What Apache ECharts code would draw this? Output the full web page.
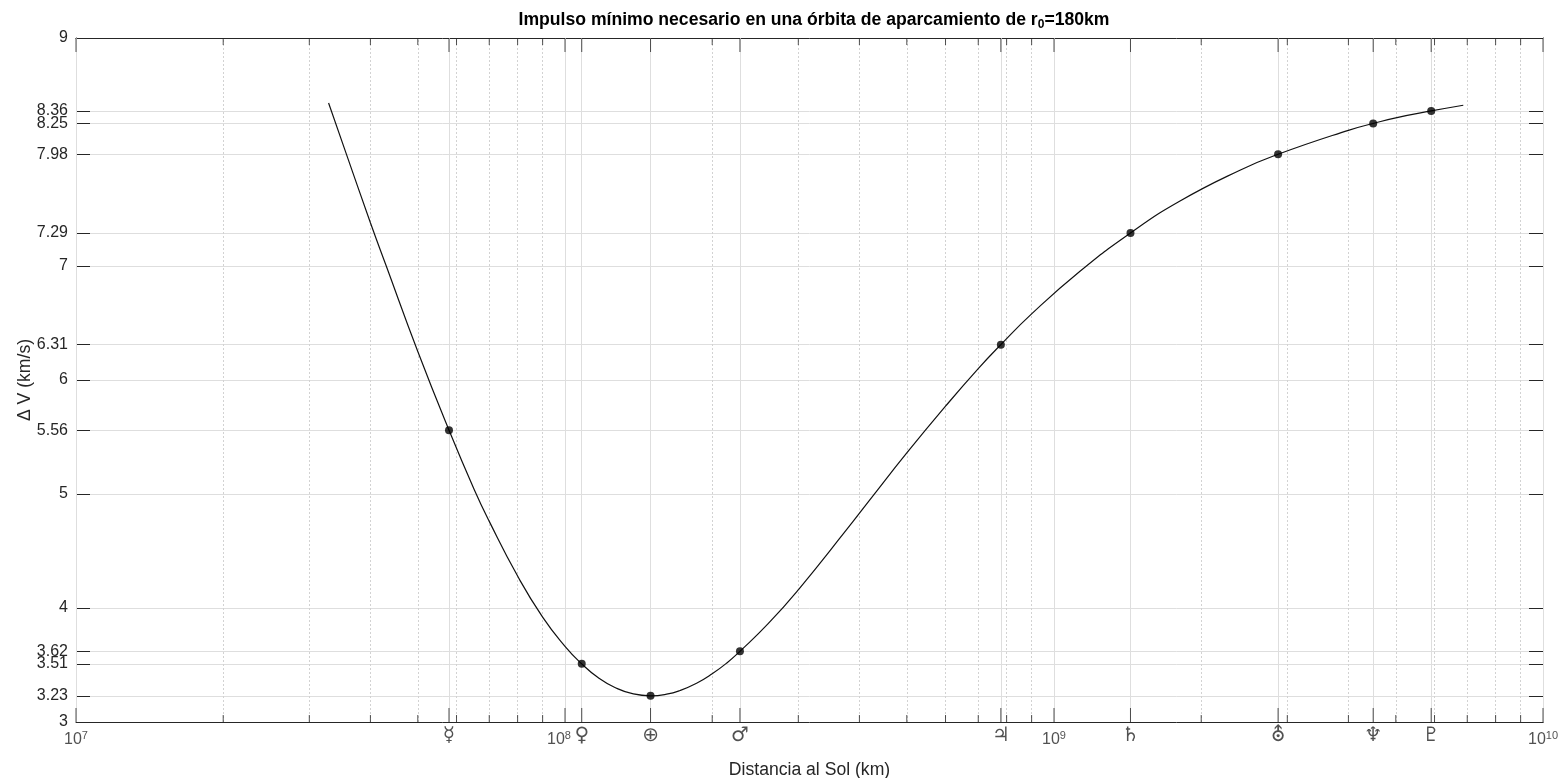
<!DOCTYPE html>
<html>
<head>
<meta charset="utf-8">
<title>Impulso mínimo necesario</title>
<script src="https://cdn.jsdelivr.net/npm/echarts@6.0.0/dist/echarts.min.js"></script>
<style>
  html, body { margin: 0; padding: 0; background: #fff; }
  #chart { width: 1566px; height: 778px; }
</style>
</head>
<body>
<div id="chart"></div>
<script>
// curva: distancia al Sol (km) y ΔV (km/s)
const curveDist = [3.285e7, 3.54e7, 4.0e7, 4.31e7, 5.0e7, 5.791e7, 6.52e7, 7.0e7, 8.0e7, 9.0e7,
  1.0e8, 1.082e8, 1.17e8, 1.265e8, 1.38e8, 1.496e8, 1.614e8, 1.718e8, 1.858e8, 2.0e8,
  2.14e8, 2.279e8, 2.6e8, 3.0e8, 3.755e8, 4.24e8, 5.0e8, 6.0e8, 7.0e8, 7.786e8,
  9.0e8, 1.127e9, 1.4335e9, 1.81e9, 2.4e9, 2.8725e9, 4.0e9, 4.4951e9, 5.0e9, 5.9064e9,
  6.87e9];
const curveDV = [8.43, 8.03, 7.38, 7.00, 6.25, 5.56, 5.04, 4.76, 4.28, 3.92,
  3.664, 3.51, 3.388, 3.303, 3.246, 3.23, 3.244, 3.276, 3.34, 3.423,
  3.516, 3.62, 3.86, 4.16, 4.68, 4.97, 5.36, 5.77, 6.10, 6.31,
  6.58, 6.95, 7.29, 7.57, 7.84, 7.98, 8.19, 8.25, 8.30, 8.36,
  8.41];

// planetas
const planetSymbols = ['☿', '♀', '⊕', '♂', '♃', '♄', '⛢', '♆', '♇'];
const planetDist = [5.791e7, 1.082e8, 1.496e8, 2.279e8, 7.786e8, 1.4335e9, 2.8725e9, 4.4951e9, 5.9064e9];
const planetDV = [5.56, 3.51, 3.23, 3.62, 6.31, 7.29, 7.98, 8.25, 8.36];

// ticks
const decadeTicks = [1e7, 1e8, 1e9, 1e10];
const decadeLabels = ['{b|10}{s|7}', '{b|10}{s|8}', '{b|10}{s|9}', '{b|10}{s|10}'];
const minorTicks = [2e7, 3e7, 4e7, 5e7, 6e7, 7e7, 8e7, 9e7,
  2e8, 3e8, 4e8, 5e8, 6e8, 7e8, 8e8, 9e8,
  2e9, 3e9, 4e9, 5e9, 6e9, 7e9, 8e9, 9e9];
const yTicks = [3, 3.23, 3.51, 3.62, 4, 5, 5.56, 6, 6.31, 7, 7.29, 7.98, 8.25, 8.36, 9];

const axisColor = '#262626';
const font = 'Liberation Sans, Arial, DejaVu Sans, sans-serif';
const majorTicks = decadeTicks.concat(planetDist);

let chart = echarts.init(document.getElementById('chart'));

// marcas cortas del eje x, dibujadas como rectangulos de 1px
function tickSeries(xs, y, len, down, label) {
  return {
    type: 'scatter',
    silent: true,
    clip: false,
    z: 5,
    symbol: 'rect',
    symbolSize: [1, len],
    symbolOffset: [0, down ? len / 2 : -len / 2],
    itemStyle: { color: axisColor },
    label: label || { show: false },
    data: xs.map(v => [v, y])
  };
}

const gridLines = majorTicks.map(v => ({
  xAxis: v,
  lineStyle: { type: 'solid', color: '#dedede', width: 1 }
})).concat(minorTicks.map(v => ({
  xAxis: v,
  lineStyle: { type: [2, 2], color: '#d2d2d2', width: 1 }
})));

const decadeSeries = tickSeries(decadeTicks, 3, 14, false, {
  show: true,
  position: 'bottom',
  distance: 8,
  formatter: p => decadeLabels[p.dataIndex],
  rich: {
    b: { fontFamily: font, fontSize: 16, color: axisColor, lineHeight: 16, padding: [4, 0, 0, 0] },
    s: { fontFamily: font, fontSize: 11, color: axisColor, lineHeight: 11, verticalAlign: 'top' }
  }
});
// 10^8 queda pegado a Venus, se corre un poco a la izquierda
decadeSeries.data = decadeSeries.data.map(d => d[0] === 1e8 ? { value: d, label: { offset: [-6, 0] } } : d);

const option = {
  animation: false,
  backgroundColor: '#fff',
  title: {
    text: 'Impulso mínimo necesario en una órbita de aparcamiento de r{sub|0}=180km',
    left: 809,
    textAlign: 'center',
    top: 6,
    textStyle: {
      fontFamily: font,
      fontSize: 17.6,
      fontWeight: 'bold',
      color: '#000',
      rich: {
        sub: { fontFamily: font, fontSize: 12, fontWeight: 'bold', color: '#000', lineHeight: 12, padding: [9, 0, 0, 0] }
      }
    }
  },
  grid: {
    left: 76,
    right: 23,
    top: 38,
    bottom: 56,
    containLabel: false,
    outerBoundsMode: 'none'
  },
  xAxis: [{
    type: 'log',
    logBase: 10,
    min: 1e7,
    max: 1e10,
    position: 'bottom',
    name: 'Distancia al Sol (km)',
    nameLocation: 'middle',
    nameGap: 39,
    nameMoveOverlap: false,
    nameTextStyle: { fontFamily: font, fontSize: 17.6, color: axisColor },
    axisLine: { show: true, lineStyle: { color: axisColor, width: 1 } },
    axisTick: { show: false },
    minorTick: { show: false },
    axisLabel: { show: false },
    splitLine: { show: false },
    minorSplitLine: { show: false }
  }, {
    type: 'log',
    logBase: 10,
    min: 1e7,
    max: 1e10,
    position: 'top',
    axisLine: { show: true, lineStyle: { color: axisColor, width: 1 } },
    axisTick: { show: false },
    axisLabel: { show: false },
    splitLine: { show: false }
  }],
  yAxis: [{
    type: 'value',
    min: 3,
    max: 9,
    position: 'left',
    name: 'Δ V (km/s)',
    nameLocation: 'middle',
    nameGap: 42,
    nameMoveOverlap: false,
    nameTextStyle: { fontFamily: font, fontSize: 17.6, color: axisColor },
    axisLine: { show: true, lineStyle: { color: axisColor, width: 1 } },
    axisTick: { show: true, inside: true, length: 14, customValues: yTicks, lineStyle: { color: axisColor } },
    axisLabel: {
      customValues: yTicks,
      fontFamily: font,
      fontSize: 16,
      color: axisColor,
      margin: 8,
      showMinLabel: true,
      showMaxLabel: true,
      hideOverlap: false,
      formatter: v => String(v)
    },
    splitLine: { show: true, lineStyle: { color: '#dedede', width: 1 } }
  }, {
    type: 'value',
    min: 3,
    max: 9,
    position: 'right',
    axisLine: { show: true, lineStyle: { color: axisColor, width: 1 } },
    axisTick: { show: true, inside: true, length: 14, customValues: yTicks, lineStyle: { color: axisColor } },
    axisLabel: { show: false },
    splitLine: { show: false }
  }],
  series: [{
    name: 'rejilla',
    type: 'line',
    silent: true,
    data: [],
    markLine: {
      silent: true,
      z: 1,
      symbol: ['none', 'none'],
      label: { show: false },
      emphasis: { disabled: true },
      data: gridLines
    }
  }, {
    name: 'ΔV',
    type: 'line',
    z: 3,
    smooth: 0.5,
    symbol: 'none',
    lineStyle: { color: '#111', width: 1.2 },
    data: curveDist.map((d, i) => [d, curveDV[i]])
  }, {
    name: 'planetas',
    type: 'scatter',
    z: 4,
    symbol: 'circle',
    symbolSize: 8,
    itemStyle: { color: '#000' },
    data: planetDist.map((d, i) => [d, planetDV[i]])
  },
  tickSeries(planetDist, 3, 14, false, {
    show: true,
    position: 'bottom',
    distance: 4,
    fontFamily: 'DejaVu Sans, Liberation Sans, sans-serif',
    fontSize: 20,
    color: axisColor,
    formatter: p => planetSymbols[p.dataIndex]
  }),
  decadeSeries,
  tickSeries(minorTicks, 3, 7, false),
  tickSeries(majorTicks, 9, 14, true),
  tickSeries(minorTicks, 9, 7, true)
  ]
};

chart.setOption(option);
window.onresize = function () {
  chart.resize();
};
</script>
</body>
</html>
